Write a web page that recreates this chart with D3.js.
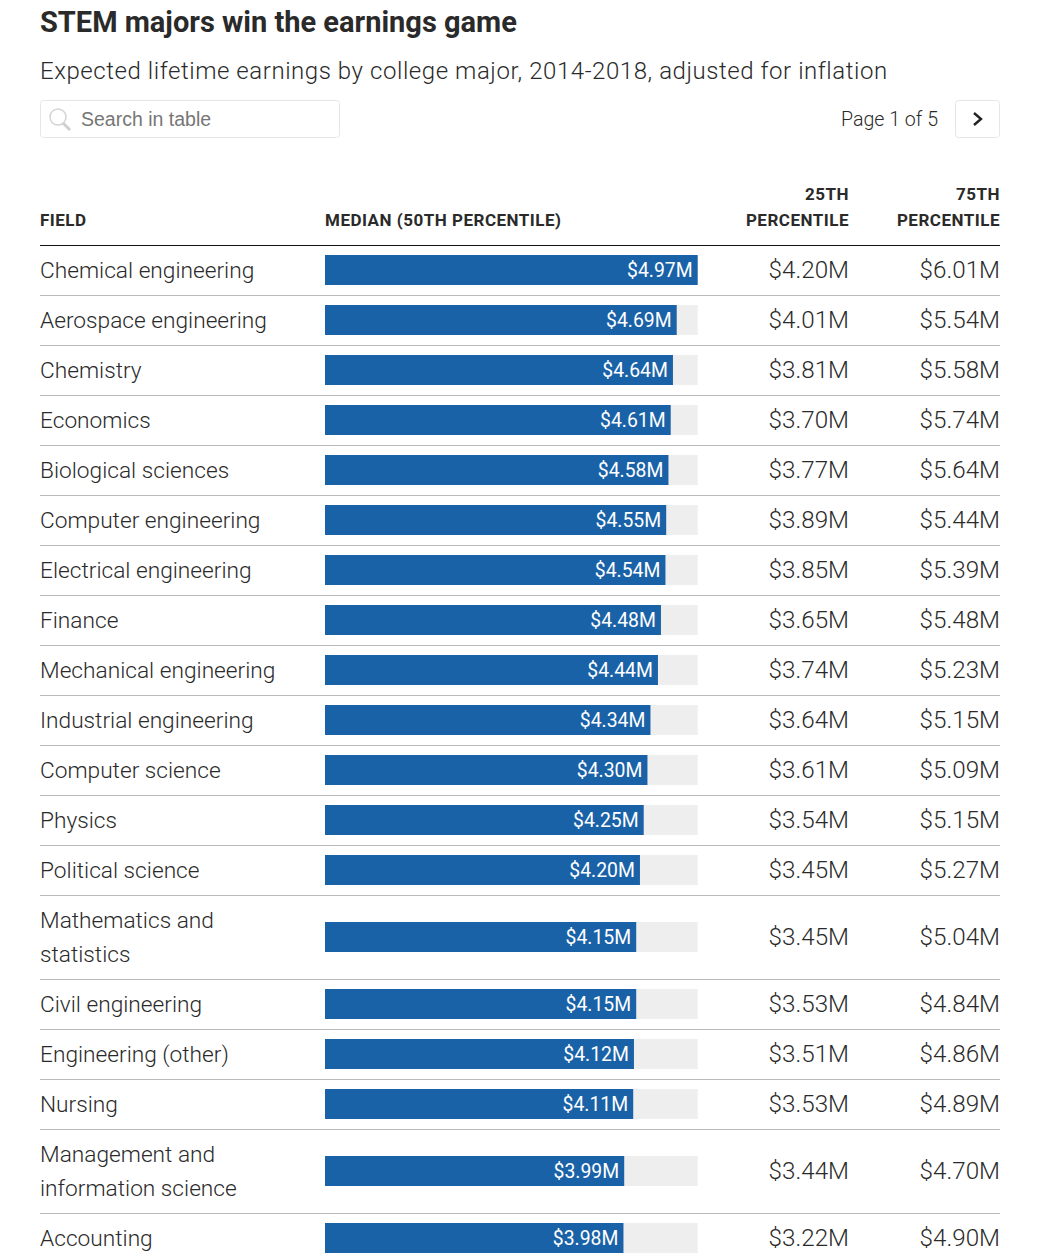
<!DOCTYPE html>
<html><head><meta charset="utf-8">
<script src="https://cdnjs.cloudflare.com/ajax/libs/d3/7.8.5/d3.min.js"></script>
<style>
html,body{margin:0;padding:0;background:#fff}
svg{display:block}
text{font-family:Roboto,sans-serif;fill:#2a2a2a}
.title{font-weight:700;font-size:29px}
.sub{font-size:24px;font-weight:300;letter-spacing:.56px}
.hd{font-weight:700;font-size:17px;letter-spacing:.5px}
.cell{font-size:22.7px;font-weight:300}
.num{font-size:24.2px;font-weight:300}
.barlab{font-size:19.4px;fill:#fff}
</style></head><body>
<svg id="c" width="1059" height="1260"></svg>
<script>
const fields=[["Chemical engineering"],["Aerospace engineering"],["Chemistry"],["Economics"],["Biological sciences"],["Computer engineering"],["Electrical engineering"],["Finance"],["Mechanical engineering"],["Industrial engineering"],["Computer science"],["Physics"],["Political science"],["Mathematics and","statistics"],["Civil engineering"],["Engineering (other)"],["Nursing"],["Management and","information science"],["Accounting"]];
const median=[4.97,4.69,4.64,4.61,4.58,4.55,4.54,4.48,4.44,4.34,4.30,4.25,4.20,4.15,4.15,4.12,4.11,3.99,3.98];
const p25=[4.20,4.01,3.81,3.70,3.77,3.89,3.85,3.65,3.74,3.64,3.61,3.54,3.45,3.45,3.53,3.51,3.53,3.44,3.22];
const p75=[6.01,5.54,5.58,5.74,5.64,5.44,5.39,5.48,5.23,5.15,5.09,5.15,5.27,5.04,4.84,4.86,4.89,4.70,4.90];

const svg=d3.select("#c");
const fmt=v=>"$"+v.toFixed(2)+"M";
const x=d3.scaleLinear().domain([0,4.97]).range([325,697.7]);
const L=40,R=1000,C25=849,top0=245.5;

svg.append("text").attr("class","title").attr("x",L).attr("y",32).text("STEM majors win the earnings game");
svg.append("text").attr("class","sub").attr("x",L).attr("y",79).text("Expected lifetime earnings by college major, 2014-2018, adjusted for inflation");

// search box
svg.append("rect").attr("x",40.5).attr("y",100.5).attr("width",299).attr("height",37).attr("rx",3).attr("fill","#fff").attr("stroke","#e6e6e6");
svg.append("circle").attr("cx",58).attr("cy",117).attr("r",8).attr("fill","none").attr("stroke","#d4d4d4").attr("stroke-width",1.5);
svg.append("line").attr("x1",63).attr("y1",123).attr("x2",70).attr("y2",130).attr("stroke","#cfcfcf").attr("stroke-width",3);
svg.append("text").attr("x",81).attr("y",126).attr("font-size",19.5).style("fill","#767676").style("font-family","Liberation Sans").text("Search in table");

// pager
svg.append("text").attr("x",938).attr("y",126).attr("text-anchor","end").attr("font-size",19.6).attr("font-weight",300).text("Page 1 of 5");
svg.append("rect").attr("x",955.5).attr("y",100.5).attr("width",44).attr("height",37).attr("rx",3).attr("fill","#fff").attr("stroke","#e6e6e6");
svg.append("path").attr("d",d3.line()([[974,113],[981,119],[974,125]])).attr("fill","none").attr("stroke","#222").attr("stroke-width",2.4);

// header
const head=(t,xp,y,a)=>svg.append("text").attr("class","hd").attr("x",xp).attr("y",y).attr("text-anchor",a).text(t);
head("FIELD",L,226,"start");
head("MEDIAN (50TH PERCENTILE)",325,226,"start");
head("25TH",C25,200,"end");head("PERCENTILE",C25,226,"end");
head("75TH",R,200,"end");head("PERCENTILE",R,226,"end");
svg.append("line").attr("x1",L).attr("x2",R).attr("y1",top0).attr("y2",top0).attr("stroke","#111").attr("stroke-width",1);

let y=top0-.5;
fields.forEach((f,i)=>{
  const h=16+34*f.length, cy=y+h/2;
  const g=svg.append("g");
  f.forEach((s,j)=>g.append("text").attr("class","cell").attr("x",L).attr("y",cy+8-17*(f.length-1)+34*j).text(s));
  g.append("rect").attr("x",x(0)).attr("y",cy-15).attr("width",x(4.97)-x(0)).attr("height",30).attr("fill","#eeeeee");
  g.append("rect").attr("x",x(0)).attr("y",cy-15).attr("width",x(median[i])-x(0)).attr("height",30).attr("fill","#1a62a8");
  g.append("text").attr("class","barlab").attr("x",x(median[i])-5).attr("y",cy+7).attr("text-anchor","end").text(fmt(median[i]));
  g.append("text").attr("class","num").attr("x",C25).attr("y",cy+8).attr("text-anchor","end").text(fmt(p25[i]));
  g.append("text").attr("class","num").attr("x",R).attr("y",cy+8).attr("text-anchor","end").text(fmt(p75[i]));
  y+=h;
  if(i<fields.length-1) svg.append("line").attr("x1",L).attr("x2",R).attr("y1",y+.5).attr("y2",y+.5).attr("stroke","#b9b9b9");
});
</script></body></html>
